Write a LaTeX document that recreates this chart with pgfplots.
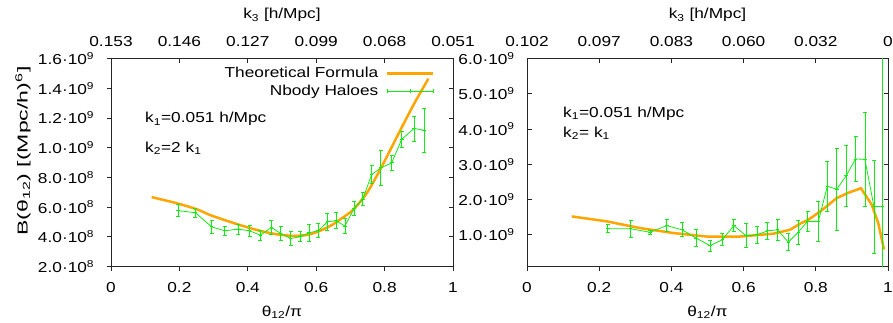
\documentclass[border=0pt]{standalone}
\usepackage{fontspec}
\setmainfont{Liberation Sans}
\usepackage{graphicx}
\usepackage{pgfplots}
\usepackage{pgfplotstable}
\pgfplotsset{compat=1.18}
\definecolor{gpgreen}{RGB}{20,235,20}
\definecolor{gporange}{RGB}{255,165,0}
\pgfplotsset{
  panel/.style={scale only axis, height=208pt, xmin=0, xmax=1,
    axis line style={line width=0.8pt, black!85}, tick style={line width=0.8pt, black!85},
    major tick length=4.5pt,
    font=\fontsize{14.4}{17}\selectfont,
    /pgf/number format/assume math mode=true, scaled ticks=false,
    xtick={0,0.2,0.4,0.6,0.8,1},
    xticklabel style={anchor=base, inner sep=0pt, xscale=1.2},
    yticklabel style={anchor=east, inner sep=0pt, xscale=1.2},
  },
  greenstyle/.style={gpgreen, line width=0.8pt, mark=+, mark size=1.8pt, mark options={solid},
    error bars/.cd, y dir=both, y explicit, error bar style={line width=0.8pt, gpgreen},
    error mark=none},
  capstyle/.style={gpgreen, only marks, mark=-, mark size=2pt, mark options={line width=0.8pt, gpgreen}, forget plot},
}
% error bar caps: lower and upper ends of each bar
\pgfplotstableread{
x lo hi
0.196 0.534e9 0.618e9
0.247 0.532e9 0.592e9
0.294 0.421e9 0.513e9
0.333 0.411e9 0.469e9
0.372 0.419e9 0.485e9
0.405 0.404e9 0.476e9
0.437 0.377e9 0.445e9
0.469 0.414e9 0.512e9
0.496 0.377e9 0.467e9
0.525 0.344e9 0.434e9
0.553 0.366e9 0.434e9
0.579 0.372e9 0.482e9
0.606 0.393e9 0.487e9
0.633 0.445e9 0.557e9
0.658 0.455e9 0.561e9
0.684 0.421e9 0.523e9
0.711 0.546e9 0.638e9
0.736 0.610e9 0.696e9
0.762 0.756e9 0.880e9
0.789 0.748e9 0.980e9
0.821 0.847e9 0.949e9
0.850 1.003e9 1.109e9
0.886 1.045e9 1.213e9
0.916 0.971e9 1.263e9
}\capsleft
\pgfplotstableread{
x lo hi
0.224 1.06e9 1.28e9
0.287 0.93e9 1.41e9
0.341 1.02e9 1.12e9
0.387 1.09e9 1.43e9
0.430 0.94e9 1.34e9
0.468 0.68e9 1.14e9
0.507 0.53e9 0.85e9
0.541 0.69e9 1.03e9
0.573 1.09e9 1.43e9
0.607 0.63e9 1.31e9
0.637 0.76e9 1.24e9
0.666 0.87e9 1.35e9
0.694 0.83e9 1.45e9
0.724 0.55e9 1.03e9
0.752 0.74e9 1.42e9
0.777 1.09e9 1.67e9
0.807 0.82e9 1.94e9
0.832 1.67e9 3.09e9
0.858 1.12e9 3.46e9
0.884 1.81e9 3.53e9
0.910 2.50e9 3.80e9
0.936 1.81e9 4.47e9
0.961 0.48e9 3.12e9
}\capsright
\begin{document}
\begin{tikzpicture}
\path[use as bounding box] (0pt,0pt) rectangle (893pt,323pt);
% ---------------- left panel ----------------
\begin{axis}[panel, at={(111pt,56.5pt)}, anchor=south west, width=342pt,
  ymin=2e8, ymax=1.6e9,
  xtick pos=top, ytick pos=right, tick align=inside,
  xticklabels={0.153,0.146,0.127,0.099,0.068,0.051},
  xticklabel style={yshift=11.5pt},
  ytick={2e8,4e8,6e8,8e8,1e9,1.2e9,1.4e9,1.6e9}, yticklabels={},
  xlabel={k\textsubscript{3} [h/Mpc]},
  xlabel style={at={(rel axis cs:0.5,1)}, anchor=base, yshift=39.5pt, inner sep=0pt, xscale=1.2},
]
\end{axis}
\begin{axis}[panel, at={(111pt,56.5pt)}, anchor=south west, width=342pt,
  ymin=2e8, ymax=1.6e9,
  xtick pos=bottom, ytick pos=left, tick align=outside,
  xticklabels={0,0.2,0.4,0.6,0.8,1},
  xticklabel style={yshift=-22pt},
  ytick={2e8,4e8,6e8,8e8,1e9,1.2e9,1.4e9,1.6e9},
  yticklabels={2.0·10\textsuperscript{8},4.0·10\textsuperscript{8},6.0·10\textsuperscript{8},8.0·10\textsuperscript{8},1.0·10\textsuperscript{9},1.2·10\textsuperscript{9},1.4·10\textsuperscript{9},1.6·10\textsuperscript{9}},
  yticklabel style={xshift=-10pt},
  xlabel={θ\textsubscript{12}/π},
  xlabel style={at={(rel axis cs:0.5,0)}, anchor=center, yshift=-45.5pt, xscale=1.2},
  ylabel={B(θ\textsubscript{12}) [(Mpc/h)\textsuperscript{6}]},
  ylabel style={at={(rel axis cs:-0.257,0.555)}, anchor=center, xscale=1.6},
  legend style={at={(rel axis cs:0.946,0.965)}, anchor=north east, draw=none, fill=none,
    inner sep=0pt, row sep=3pt, column sep=6pt, nodes={inner sep=1.5pt}, font=\fontsize{14.4}{17}\selectfont},
  legend cell align=right, legend plot pos=right,
]
\addplot[gporange, line width=2.5pt, smooth, tension=0.4,
  legend image code/.code={\draw[gporange, line width=2.5pt] (0pt,0pt) -- (46pt,0pt);}]
  table[x=x, y=y] {
x y
0.119 0.667e9
0.192 0.626e9
0.251 0.585e9
0.289 0.547e9
0.338 0.508e9
0.387 0.472e9
0.436 0.440e9
0.484 0.417e9
0.533 0.406e9
0.575 0.413e9
0.609 0.438e9
0.645 0.478e9
0.670 0.517e9
0.708 0.581e9
0.748 0.694e9
0.787 0.852e9
0.845 1.113e9
0.885 1.290e9
0.928 1.464e9
};
\addlegendentry{\scalebox{1.2}[1]{Theoretical Formula}}
\addplot[
  legend image code/.code={
    \draw[gpgreen, line width=0.8pt] (0pt,0pt) -- (46pt,0pt);
    \draw[gpgreen, line width=0.8pt] (0pt,-2pt) -- (0pt,2pt);
    \draw[gpgreen, line width=0.8pt] (23pt,-2pt) -- (23pt,2pt);
    \draw[gpgreen, line width=0.8pt] (46pt,-2pt) -- (46pt,2pt);},
  greenstyle]
  table[x=x, y=y, y error=e] {
x y e
0.196 0.576e9 0.042e9
0.247 0.562e9 0.030e9
0.294 0.467e9 0.046e9
0.333 0.440e9 0.029e9
0.372 0.452e9 0.033e9
0.405 0.440e9 0.036e9
0.437 0.411e9 0.034e9
0.469 0.463e9 0.049e9
0.496 0.422e9 0.045e9
0.525 0.389e9 0.045e9
0.553 0.400e9 0.034e9
0.579 0.427e9 0.055e9
0.606 0.440e9 0.047e9
0.633 0.501e9 0.056e9
0.658 0.508e9 0.053e9
0.684 0.472e9 0.051e9
0.711 0.592e9 0.046e9
0.736 0.653e9 0.043e9
0.762 0.818e9 0.062e9
0.789 0.864e9 0.116e9
0.821 0.898e9 0.051e9
0.850 1.056e9 0.053e9
0.886 1.129e9 0.084e9
0.916 1.117e9 0.146e9
};
\addlegendentry{\scalebox{1.2}[1]{Nbody Haloes}}
\addplot[capstyle] table[x=x, y=lo] {\capsleft};
\addplot[capstyle] table[x=x, y=hi] {\capsleft};
\node[anchor=base west, inner sep=0pt, xscale=1.2] at (rel axis cs:0.0994,0.69) {k\textsubscript{1}=0.051 h/Mpc};
\node[anchor=base west, inner sep=0pt, xscale=1.2] at (rel axis cs:0.0994,0.55) {k\textsubscript{2}=2 k\textsubscript{1}};
\end{axis}
% ---------------- right panel ----------------
\begin{axis}[panel, at={(527pt,56.5pt)}, anchor=south west, width=361pt,
  ymin=1e8, ymax=6e9,
  xtick pos=top, ytick pos=right, tick align=inside,
  xticklabels={0.102,0.097,0.083,0.060,0.032,0},
  xticklabel style={yshift=11.5pt},
  ytick={1e9,2e9,3e9,4e9,5e9,6e9}, yticklabels={},
  xlabel={k\textsubscript{3} [h/Mpc]},
  xlabel style={at={(rel axis cs:0.5,1)}, anchor=base, yshift=39.5pt, inner sep=0pt, xscale=1.2},
]
\end{axis}
\begin{axis}[panel, at={(527pt,56.5pt)}, anchor=south west, width=361pt,
  ymin=1e8, ymax=6e9,
  xtick pos=bottom, ytick pos=left, xtick align=outside, ytick align=inside,
  xticklabels={0,0.2,0.4,0.6,0.8,1},
  xticklabel style={yshift=-22pt},
  ytick={1e9,2e9,3e9,4e9,5e9,6e9},
  yticklabels={1.0·10\textsuperscript{9},2.0·10\textsuperscript{9},3.0·10\textsuperscript{9},4.0·10\textsuperscript{9},5.0·10\textsuperscript{9},6.0·10\textsuperscript{9}},
  yticklabel style={xshift=-10pt},
  xlabel={θ\textsubscript{12}/π},
  xlabel style={at={(rel axis cs:0.5,0)}, anchor=center, yshift=-45.5pt, xscale=1.2},
]
\addplot[gporange, line width=2.5pt] table[x=x, y=y] {
x y
0.124 1.52e9
0.221 1.38e9
0.313 1.19e9
0.405 1.05e9
0.498 0.95e9
0.590 0.95e9
0.682 1.03e9
0.728 1.14e9
0.756 1.31e9
0.780 1.43e9
0.812 1.66e9
0.858 2.04e9
0.890 2.19e9
0.925 2.32e9
0.955 1.85e9
0.973 1.33e9
0.989 0.58e9
};
\addplot[greenstyle] table[x=x, y=y, y error=e] {
x y e
0.224 1.17e9 0.11e9
0.287 1.17e9 0.24e9
0.341 1.07e9 0.05e9
0.387 1.26e9 0.17e9
0.430 1.14e9 0.20e9
0.468 0.91e9 0.23e9
0.507 0.69e9 0.16e9
0.541 0.86e9 0.17e9
0.573 1.26e9 0.17e9
0.607 0.97e9 0.34e9
0.637 1.00e9 0.24e9
0.666 1.11e9 0.24e9
0.694 1.14e9 0.31e9
0.724 0.79e9 0.24e9
0.752 1.08e9 0.34e9
0.777 1.38e9 0.29e9
0.807 1.38e9 0.56e9
0.832 2.38e9 0.71e9
0.858 2.29e9 1.17e9
0.884 2.67e9 0.86e9
0.910 3.15e9 0.65e9
0.936 3.14e9 1.33e9
0.961 1.80e9 1.32e9
0.985 1.80e9 8.0e9
};
\addplot[capstyle] table[x=x, y=lo] {\capsright};
\addplot[capstyle] table[x=x, y=hi] {\capsright};
\node[anchor=base west, inner sep=0pt, xscale=1.2] at (rel axis cs:0.0997,0.716) {k\textsubscript{1}=0.051 h/Mpc};
\node[anchor=base west, inner sep=0pt, xscale=1.2] at (rel axis cs:0.0997,0.62) {k\textsubscript{2}= k\textsubscript{1}};
\end{axis}
\end{tikzpicture}
\end{document}
